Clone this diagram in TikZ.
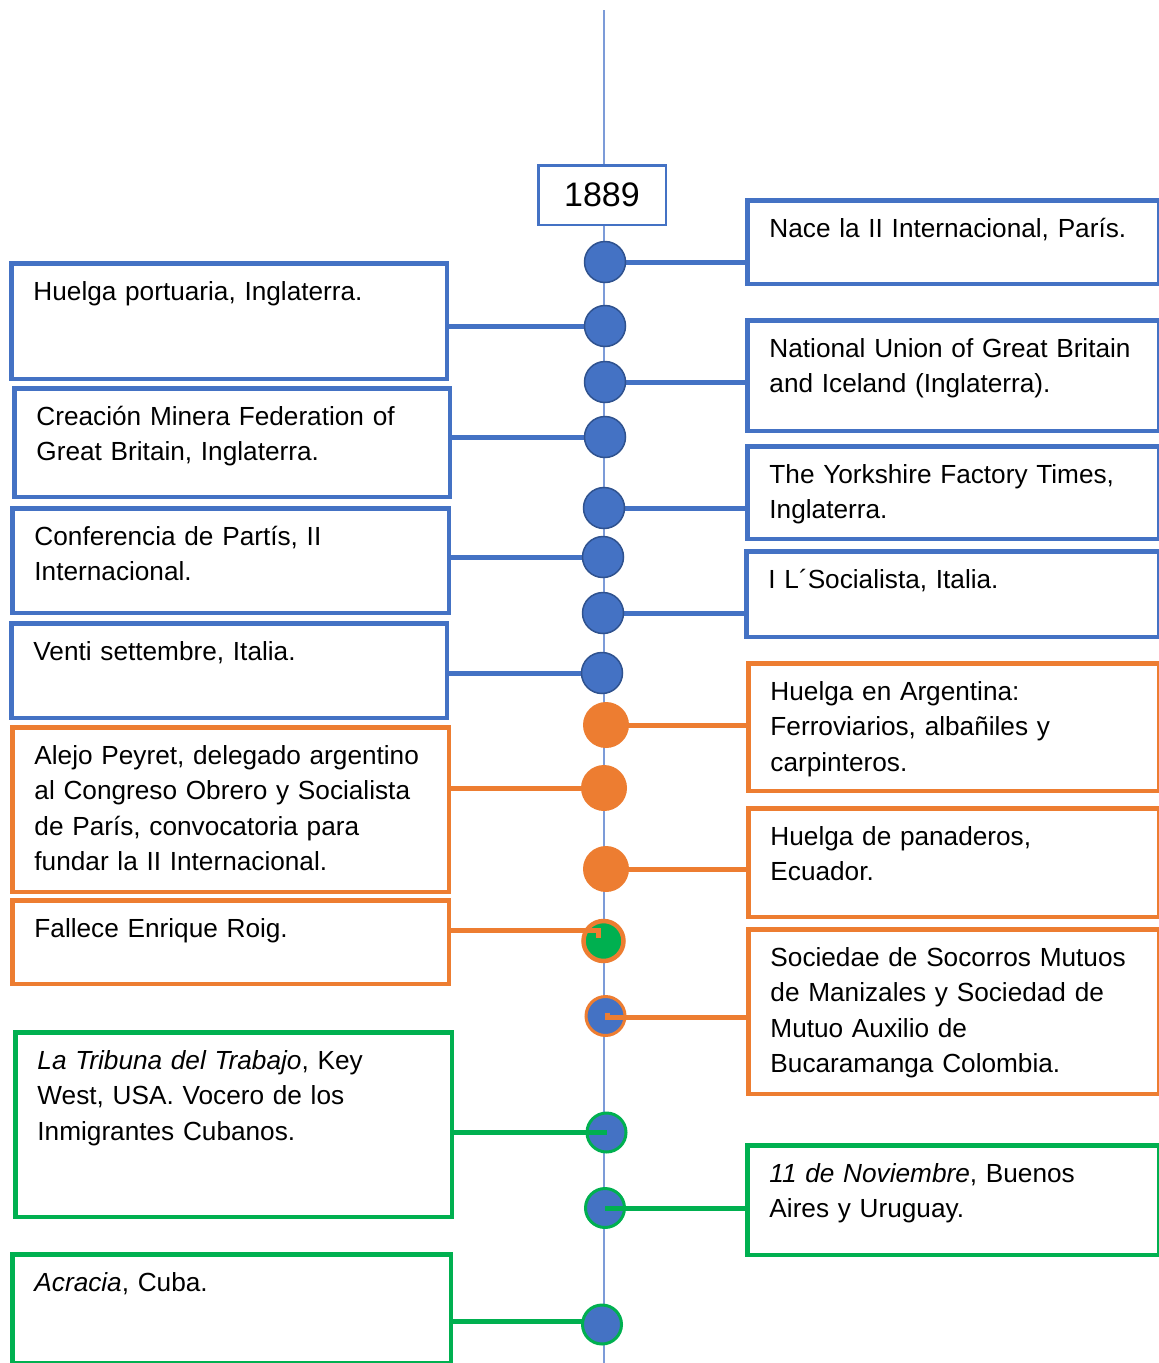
\documentclass[tikz,border=0pt]{standalone}
\usepackage{fontspec}
\setmainfont{Liberation Sans}
\definecolor{cblue}{HTML}{4472C4}
\definecolor{cdark}{HTML}{2F528F}
\definecolor{corange}{HTML}{ED7D31}
\definecolor{cgreen}{HTML}{00B050}
\definecolor{cline}{RGB}{124,155,216}
\pgfdeclarelayer{bg}
\pgfdeclarelayer{mid}
\pgfsetlayers{bg,mid,main}
\newcommand\evbox[7]{%
  \node[ebox, draw=#2, minimum width={#5-#3-4.5}, minimum height={#6-#4-4.5}] (#1) at ({#3+2.25},{#4+2.25}) {};
  \node[etxt] (#1t) at ([xshift=24pt,yshift=-39pt]#1.north west) {#7};}
\begin{document}
\begin{tikzpicture}[x=1pt,y=-1pt,
  ebox/.style={line width=4.5pt, fill=white, inner sep=0pt, anchor=north west},
  etxt/.style={anchor=base west, inner sep=0pt, text width=410pt, align=left,
    font=\fontsize{26.2pt}{35.5pt}\selectfont},
  bdot/.style={circle, fill=cblue, draw=cdark, line width=1.5pt, minimum size=41pt, inner sep=0pt},
  odot/.style={circle, fill=corange, minimum size=46pt, inner sep=0pt},
  godot/.style={circle, fill=cgreen, draw=corange, line width=4.5pt, minimum size=40pt, inner sep=0pt},
  bodot/.style={circle, fill=cblue, draw=corange, line width=3pt, minimum size=39pt, inner sep=0pt},
  bgdot/.style={circle, fill=cblue, draw=cgreen, line width=3pt, minimum size=39pt, inner sep=0pt},
  bconn/.style={draw=cblue, line width=5pt},
  oconn/.style={draw=corange, line width=5pt},
  gconn/.style={draw=cgreen, line width=5pt},
  timeline/.style={draw=cline, line width=2pt},
  yearbox/.style={draw=cblue, line width=2.5pt, fill=white, inner sep=0pt,
    font=\fontsize{34pt}{40pt}\selectfont}]
\useasboundingbox (0,0) rectangle (1159,1363);
\begin{pgfonlayer}{bg}
\fill[white] (0,0) rectangle (1159,1363);
\end{pgfonlayer}

% boxes
\evbox{R1}{cblue}{743}{196}{1159}{284}{Nace la II Internacional, París.}
\evbox{R2}{cblue}{743}{316}{1159}{431}{National Union of Great Britain\\ and Iceland (Inglaterra).}
\evbox{R3}{cblue}{743}{442}{1159}{539}{The Yorkshire Factory Times,\\ Inglaterra.}
\evbox{R4}{cblue}{742}{547}{1159}{637}{I L´Socialista, Italia.}
\evbox{R5}{corange}{744}{659}{1159}{791}{Huelga en Argentina:\\ Ferroviarios, albañiles y\\ carpinteros.}
\evbox{R6}{corange}{744}{804}{1159}{917}{Huelga de panaderos,\\ Ecuador.}
\evbox{R7}{corange}{744}{925}{1159}{1094}{Sociedae de Socorros Mutuos\\ de Manizales y Sociedad de\\ Mutuo Auxilio de\\ Bucaramanga Colombia.}
\evbox{R8}{cgreen}{743}{1141}{1159}{1255}{\textit{11 de Noviembre}, Buenos\\ Aires y Uruguay.}

\evbox{L1}{cblue}{7}{259}{447}{379}{Huelga portuaria, Inglaterra.}
\evbox{L2}{cblue}{10}{384}{450}{497}{Creación Minera Federation of\\ Great Britain, Inglaterra.}
\evbox{L3}{cblue}{8}{504}{449}{613}{Conferencia de Partís, II\\ Internacional.}
\evbox{L4}{cblue}{7}{619}{447}{718}{Venti settembre, Italia.}
\evbox{L5}{corange}{8}{723}{449}{892}{Alejo Peyret, delegado argentino\\ al Congreso Obrero y Socialista\\ de París, convocatoria para\\ fundar la II Internacional.}
\evbox{L6}{corange}{8}{896}{449}{984}{Fallece Enrique Roig.}
\evbox{L7}{cgreen}{11}{1028}{452}{1217}{\textit{La Tribuna del Trabajo}, Key\\ West, USA. Vocero de los\\ Inmigrantes Cubanos.}
\evbox{L8}{cgreen}{8}{1250}{451}{1363}{\textit{Acracia}, Cuba.}

% year
\node[yearbox, minimum width=127.5pt, minimum height=59.5pt] (year) at (602,195) {1889};

% circles
\begin{pgfonlayer}{mid}
\node[bdot] (b1) at (605,262) {};
\node[bdot] (b2) at (605,326) {};
\node[bdot] (b3) at (605,382) {};
\node[bdot] (b4) at (605,437) {};
\node[bdot] (b5) at (604,508) {};
\node[bdot] (b6) at (603,557) {};
\node[bdot] (b7) at (603,613) {};
\node[bdot] (b8) at (602,673) {};
\node[odot] (o1) at (606,725) {};
\node[odot] (o2) at (604,788) {};
\node[odot] (o3) at (606,869) {};
\node[godot] (go) at (603.5,941) {};
\node[bodot] (bo) at (605.5,1016) {};
\node[bgdot] (bg1) at (606.5,1132.5) {};
\node[bgdot] (bg2) at (605,1208) {};
\node[bgdot] (bg3) at (602,1324.5) {};
\coordinate (k1) at (598,930.5);
\coordinate (k2) at (607,1017.5);
% connectors drawn over the circles
\draw[oconn] (k1 -| L6.east) -- (k1) -- ++(0,7);
\draw[oconn] ([yshift=5pt]k2) -- (k2) -- (k2 -| R7.west);
\draw[gconn] (bg1.center -| L7.east) -- (bg1.center);
\draw[gconn] (bg2.center) -- (bg2.center -| R8.west);
\end{pgfonlayer}

% timeline and connectors behind the circles
\begin{pgfonlayer}{bg}
\coordinate (ttop) at (604,10);
\coordinate (tbot) at (604,1363);
\draw[timeline] (ttop) -- (tbot);
\draw[bconn] (b1.center) -- (b1.center -| R1.west);
\draw[bconn] (b2.center) -- (b2.center -| L1.east);
\draw[bconn] (b3.center) -- (b3.center -| R2.west);
\draw[bconn] (b4.center) -- (b4.center -| L2.east);
\draw[bconn] (b5.center) -- (b5.center -| R3.west);
\draw[bconn] (b6.center) -- (b6.center -| L3.east);
\draw[bconn] (b7.center) -- (b7.center -| R4.west);
\draw[bconn] (b8.center) -- (b8.center -| L4.east);
\draw[oconn] (o1.center) -- (o1.center -| R5.west);
\draw[oconn] (o2.center) -- (o2.center -| L5.east);
\draw[oconn] (o3.center) -- (o3.center -| R6.west);
\coordinate (k3) at (602,1321);
\draw[gconn] (k3) -- (k3 -| L8.east);
\end{pgfonlayer}
\end{tikzpicture}
\end{document}
